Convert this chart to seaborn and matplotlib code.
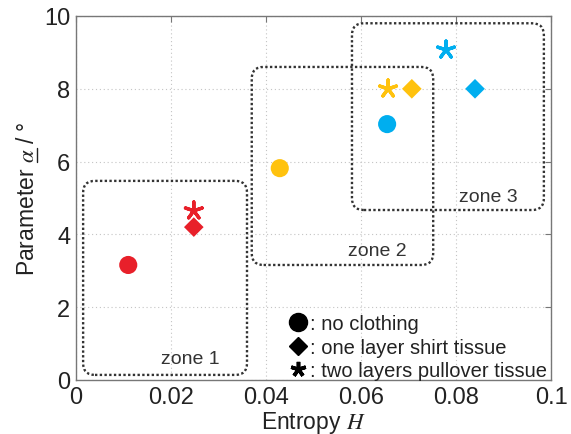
import matplotlib
matplotlib.use("Agg")
import matplotlib.pyplot as plt
from matplotlib.lines import Line2D
from matplotlib.patches import FancyBboxPatch
import seaborn as sns
import pandas as pd

# ---- data ----
entropy = [0.0110, 0.0248, 0.0248, 0.0429, 0.0707, 0.0657, 0.0655, 0.0840, 0.0779]
alpha = [3.16, 4.20, 4.65, 5.82, 8.00, 8.00, 7.03, 8.00, 9.07]
subject = ["red", "red", "red", "yellow", "yellow", "yellow", "blue", "blue", "blue"]
clothing = ["no clothing", "one layer shirt tissue", "two layers pullover tissue",
            "no clothing", "one layer shirt tissue", "two layers pullover tissue",
            "no clothing", "one layer shirt tissue", "two layers pullover tissue"]
zone_names = ["zone 1", "zone 2", "zone 3"]
zone_x0 = [0.0015, 0.0370, 0.0581]
zone_x1 = [0.0360, 0.0752, 0.0985]
zone_y0 = [0.14, 3.16, 4.67]
zone_y1 = [5.47, 8.60, 9.80]
zone_label_x = [0.0240, 0.0634, 0.0867]
zone_label_y = [0.60, 3.55, 5.05]
xticks = [0, 0.02, 0.04, 0.06, 0.08, 0.1]
xticklabels = ["0", "0.02", "0.04", "0.06", "0.08", "0.1"]
yticks = [0, 2, 4, 6, 8, 10]

palette = {"red": "#e8202a", "yellow": "#ffc20e", "blue": "#00aeef"}
markers = {"no clothing": "o", "one layer shirt tissue": "D",
           "two layers pullover tissue": (5, 2, 0)}
sizes = {"no clothing": 170, "one layer shirt tissue": 100,
         "two layers pullover tissue": 160}

df = pd.DataFrame({"entropy": entropy, "alpha": alpha,
                   "subject": subject, "clothing": clothing})

sns.set_style("white")
plt.rcParams["font.family"] = ["Liberation Sans", "DejaVu Sans"]
plt.rcParams["mathtext.fontset"] = "stix"

fig = plt.figure(figsize=(5.71, 4.35), dpi=100)
ax = fig.add_axes([76 / 571, 54 / 435, 475 / 571, 364 / 435])

ax.grid(True, linestyle=(0, (1, 2.5)), color="#c4c4c4", linewidth=0.8)
ax.set_axisbelow(True)

for cl, mk in markers.items():
    sub = df[df["clothing"] == cl]
    if cl.startswith("two"):
        kw = dict(linewidth=2.4)
    else:
        kw = dict(linewidth=0)
    sns.scatterplot(data=sub, x="entropy", y="alpha", hue="subject",
                    palette=palette, marker=mk, s=sizes[cl], legend=False,
                    ax=ax, zorder=3, **kw)

aspect = (10 / 364) / (0.1 / 475)
for name, x0, x1, y0, y1, lx, ly in zip(zone_names, zone_x0, zone_x1, zone_y0,
                                        zone_y1, zone_label_x, zone_label_y):
    box = FancyBboxPatch((x0, y0), x1 - x0, y1 - y0,
                         boxstyle="round,pad=0,rounding_size=0.0025",
                         mutation_aspect=aspect, fill=False,
                         edgecolor="#333333", linestyle=(0, (1, 1.0)),
                         linewidth=1.7, zorder=2)
    ax.add_patch(box)
    ax.text(lx, ly, name, ha="center", va="center", fontsize=14,
            color="#333333", zorder=4)

ax.set_xlim(0, 0.1)
ax.set_ylim(0, 10)
ax.set_xticks(xticks)
ax.set_xticklabels(xticklabels)
ax.set_yticks(yticks)
ax.tick_params(direction="in", length=4, top=True, right=True,
               labelsize=17, color="#777777", labelcolor="#222222", pad=4)
for sp in ax.spines.values():
    sp.set_color("#777777")
    sp.set_linewidth(1.0)

ax.set_xlabel("Entropy $H$", fontsize=16.5, color="#222222", labelpad=1)
ax.set_ylabel(r"Parameter $\alpha$ / °", fontsize=16.5,
              color="#222222", labelpad=4)

handles = [Line2D([], [], linestyle="none", marker="o", color="black", markersize=13),
           Line2D([], [], linestyle="none", marker="D", color="black", markersize=9.5),
           Line2D([], [], linestyle="none", marker=(5, 2, 0), color="black",
                  markersize=11, markeredgewidth=2.6)]
labels = [": no clothing", ": one layer shirt tissue", ": two layers pullover tissue"]
leg = ax.legend(handles, labels, loc="lower right", bbox_to_anchor=(1.0, -0.012),
                frameon=False, handlelength=0.9, handletextpad=0.15,
                labelspacing=0.22, borderpad=0.1, borderaxespad=0.1,
                fontsize=14.5)
for t in leg.get_texts():
    t.set_color("#222222")

# underline under alpha in the (rotated) y label
fig.canvas.draw()
r = fig.canvas.get_renderer()
lab = ax.yaxis.label
bb = lab.get_window_extent(r)
tmp1 = fig.text(0, 0, r"Parameter $\alpha$", fontsize=16.5)
w1 = tmp1.get_window_extent(r).width
tmp1.remove()
tmp2 = fig.text(0, 0, r"$\alpha$", fontsize=16.5)
wa = tmp2.get_window_extent(r).width
tmp2.remove()
W, H = fig.bbox.width, fig.bbox.height
ux = bb.x1 - 1.5
uy0 = bb.y0 + w1 - wa
uy1 = bb.y0 + w1
fig.add_artist(Line2D([ux / W, ux / W], [uy0 / H, uy1 / H],
                      transform=fig.transFigure, color="#222222", linewidth=1.0))

fig.savefig("out.png", dpi=100)
